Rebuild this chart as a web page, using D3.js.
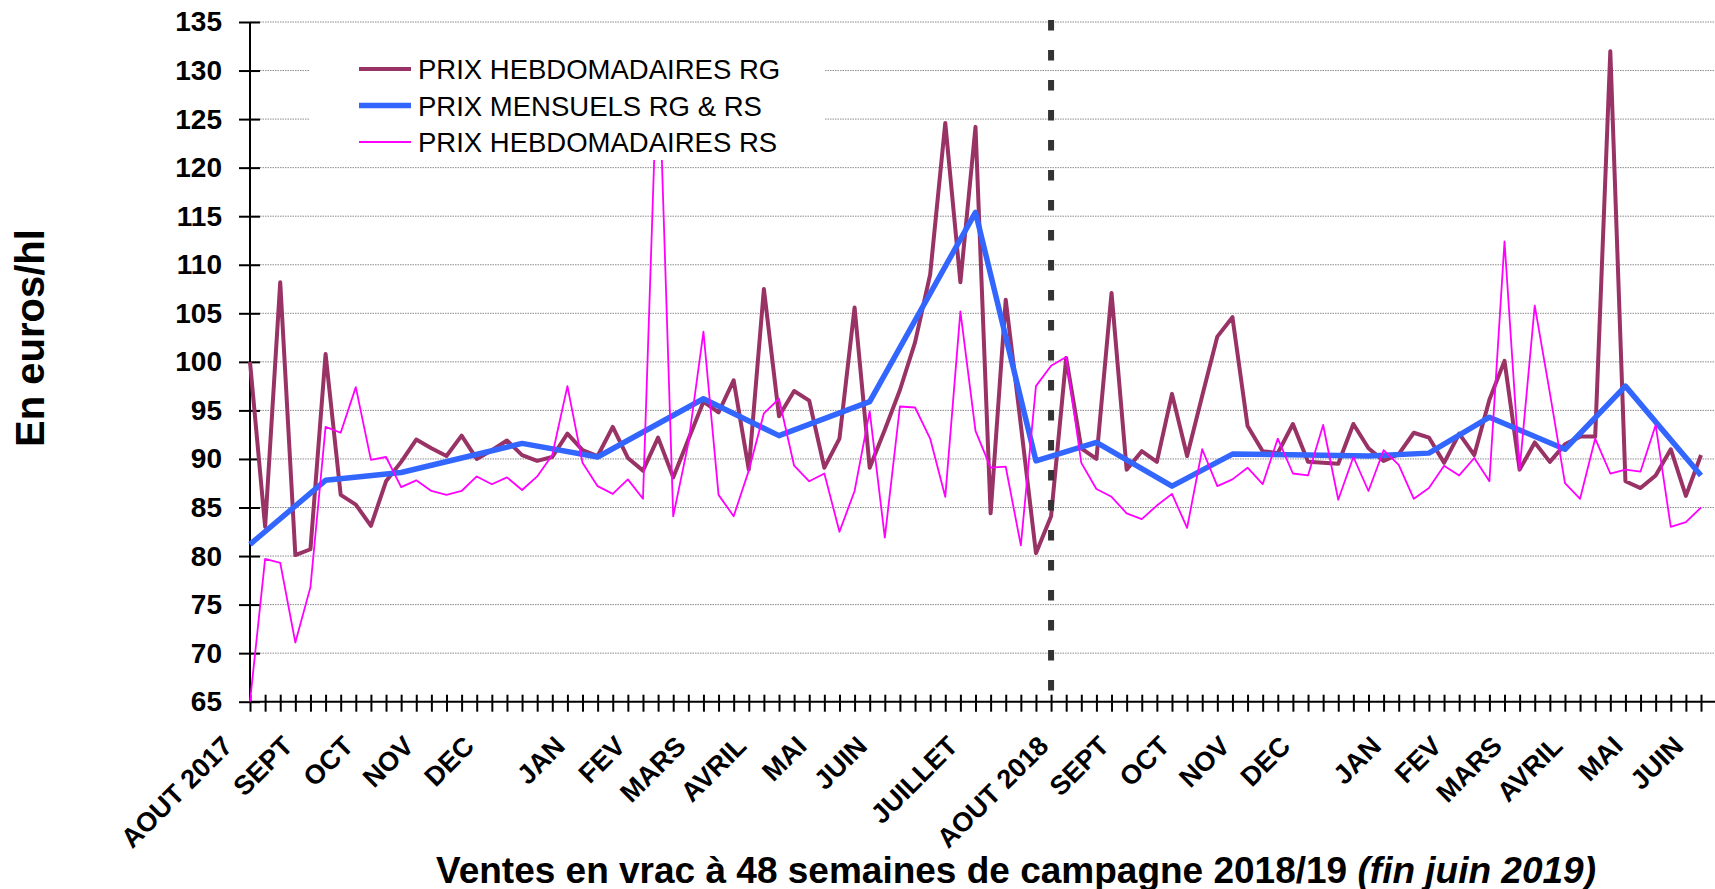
<!DOCTYPE html>
<html>
<head>
<meta charset="utf-8">
<script src="https://cdn.jsdelivr.net/npm/d3@7"></script>
<style>
  body { margin: 0; background: #fff; }
  #chart { width: 1715px; height: 889px; }
  text { font-family: Arial, 'Liberation Sans', sans-serif; }
</style>
</head>
<body>
<div id="chart"></div>
<script>
// Prix hebdomadaires (une valeur par semaine, index 0 = 1re semaine d'AOUT 2017)
const prixRG = [
  100.0, 83.0, 108.2, 80.1, 80.7, 100.8, 86.3, 85.3, 83.1, 87.7,
  89.7, 92.0, 91.1, 90.3, 92.4, 90.0, 90.9, 91.9, 90.4, 89.8,
  90.2, 92.6, 90.9, 90.3, 93.3, 90.1, 88.8, 92.2, 88.1, 92.0,
  95.9, 94.8, 98.1, 88.9, 107.5, 94.4, 97.0, 96.0, 89.1, 92.1,
  105.6, 89.1, 93.0, 97.1, 102.0, 109.0, 124.6, 108.2, 124.2, 84.4,
  106.4, 93.5, 80.3, 84.1, 100.4, 91.1, 90.0, 107.1, 88.9, 90.8,
  89.7, 96.7, 90.3, 96.5, 102.6, 104.6, 93.4, 90.8, 90.6, 93.6,
  89.7, 89.6, 89.5, 93.6, 91.1, 89.8, 90.5, 92.7, 92.2, 89.6,
  92.6, 90.4, 96.1, 100.1, 88.9, 91.7, 89.7, 91.5, 92.3, 92.3,
  132.0, 87.7, 87.0, 88.3, 91.0, 86.2, 90.4
];
const prixRS = [
  65.0, 79.7, 79.3, 71.1, 76.8, 93.3, 92.7, 97.4, 89.9, 90.2,
  87.1, 87.8, 86.7, 86.3, 86.7, 88.2, 87.4, 88.1, 86.8, 88.2,
  90.4, 97.5, 89.6, 87.2, 86.4, 87.9, 85.9, 133.0, 84.1, 91.6,
  103.1, 86.3, 84.1, 88.8, 94.7, 96.2, 89.3, 87.7, 88.5, 82.5,
  86.7, 94.9, 81.9, 95.4, 95.3, 92.1, 86.1, 105.2, 92.9, 89.1,
  89.2, 81.1, 97.5, 99.6, 100.5, 89.6, 86.9, 86.1, 84.4, 83.8,
  85.2, 86.4, 82.9, 91.0, 87.2, 87.9, 89.1, 87.4, 92.1, 88.5,
  88.3, 93.5, 85.8, 90.2, 86.7, 90.9, 89.4, 85.9, 87.0, 89.3,
  88.3, 90.1, 87.7, 112.4, 88.9, 105.8, 96.8, 87.5, 85.9, 92.1,
  88.5, 88.9, 88.7, 93.5, 83.0, 83.5, 85.0
];

// Prix mensuels RG & RS, placés sur la semaine correspondante
const semainesMensuels = [0, 5, 10, 14, 18, 23, 30, 35, 41, 48, 52, 56, 61, 65, 70, 74, 78, 82, 87, 91, 96];
const prixMensuels = [81.2, 87.8, 88.6, 90.1, 91.6, 90.2, 96.2, 92.4, 95.9, 115.4, 89.8, 91.7, 87.2, 90.5, 90.4, 90.3, 90.6, 94.3, 91.0, 97.5, 88.3];

// Etiquettes des mois sous l'axe
const moisLabels = ['AOUT 2017', 'SEPT', 'OCT', 'NOV', 'DEC', 'JAN', 'FEV', 'MARS', 'AVRIL', 'MAI', 'JUIN', 'JUILLET',
  'AOUT 2018', 'SEPT', 'OCT', 'NOV', 'DEC', 'JAN', 'FEV', 'MARS', 'AVRIL', 'MAI', 'JUIN'];
const moisSemaines = [0, 4, 8, 12, 16, 22, 26, 30, 34, 38, 42, 48, 54, 58, 62, 66, 70, 76, 80, 84, 88, 92, 96];

const yTicks = [65, 70, 75, 80, 85, 90, 95, 100, 105, 110, 115, 120, 125, 130, 135];
const debutCampagne = 53; // semaine de la ligne pointillée (AOUT 2018)

const legendItems = [
  { label: 'PRIX HEBDOMADAIRES RG', color: '#993366', width: 4 },
  { label: 'PRIX MENSUELS RG & RS', color: '#3366FF', width: 5.5 },
  { label: 'PRIX HEBDOMADAIRES RS', color: '#FF00FF', width: 1.8 }
];

function drawChart() {
  const W = 1715, H = 889;
  const left = 250, bottom = 701.7, top = 22;

  const svg = d3.select('#chart').append('svg')
    .attr('width', W)
    .attr('height', H);

  const x = d3.scaleLinear().domain([0, 96]).range([left, 1701]);
  const y = d3.scaleLinear().domain([65, 135]).range([bottom, top]);

  // grille horizontale pointillée
  svg.append('g')
    .selectAll('line')
    .data(yTicks.slice(1))
    .enter().append('line')
    .attr('x1', left).attr('x2', W)
    .attr('y1', d => y(d)).attr('y2', d => y(d))
    .attr('stroke', '#8c8c8c')
    .attr('stroke-width', 1)
    .attr('stroke-dasharray', '1.5 1');

  // axe Y
  const yAxis = svg.append('g')
    .attr('transform', `translate(${left},0)`)
    .call(d3.axisLeft(y).tickValues(yTicks).tickSize(11).tickPadding(17));
  yAxis.select('.domain').remove();
  yAxis.selectAll('.tick line').attr('x1', 10).attr('stroke', '#000').attr('stroke-width', 2);
  yAxis.selectAll('.tick text')
    .style('font-size', '28px')
    .style('font-weight', 'bold')
    .attr('fill', '#000');
  yAxis.append('line')
    .attr('x1', 0).attr('x2', 0)
    .attr('y1', top).attr('y2', bottom)
    .attr('stroke', '#000').attr('stroke-width', 2);

  // axe X (une graduation par semaine)
  const xAxis = svg.append('g')
    .attr('transform', `translate(0,${bottom})`)
    .call(d3.axisBottom(x).tickValues(d3.range(0, 98)).tickSize(10).tickFormat(''));
  xAxis.select('.domain').remove();
  xAxis.selectAll('.tick line').attr('y1', -7).attr('stroke', '#000').attr('stroke-width', 2);
  xAxis.append('line')
    .attr('x1', left).attr('x2', W)
    .attr('stroke', '#000').attr('stroke-width', 2);

  // étiquettes des mois, inclinées
  svg.append('g')
    .selectAll('text')
    .data(moisLabels)
    .enter().append('text')
    .attr('transform', (d, i) => `translate(${x(moisSemaines[i]) - 16},${bottom + 46}) rotate(-45)`)
    .attr('text-anchor', 'end')
    .style('font-size', '27px')
    .style('font-weight', 'bold')
    .text(d => d);

  // séries
  const weekLine = d3.line().x((d, i) => x(i)).y(d => y(d));
  const monthLine = d3.line().x((d, i) => x(semainesMensuels[i])).y(d => y(d));

  svg.append('path')
    .datum(prixRG)
    .attr('d', weekLine)
    .attr('fill', 'none')
    .attr('stroke', legendItems[0].color)
    .attr('stroke-width', legendItems[0].width)
    .attr('stroke-linejoin', 'round');

  svg.append('path')
    .datum(prixMensuels)
    .attr('d', monthLine)
    .attr('fill', 'none')
    .attr('stroke', legendItems[1].color)
    .attr('stroke-width', legendItems[1].width)
    .attr('stroke-linejoin', 'round');

  svg.append('path')
    .datum(prixRS)
    .attr('d', weekLine)
    .attr('fill', 'none')
    .attr('stroke', legendItems[2].color)
    .attr('stroke-width', legendItems[2].width)
    .attr('stroke-linejoin', 'round');

  // ligne de début de campagne
  svg.append('line')
    .attr('x1', x(debutCampagne)).attr('x2', x(debutCampagne))
    .attr('y1', top - 2).attr('y2', bottom - 3)
    .attr('stroke', '#333')
    .attr('stroke-width', 6)
    .attr('stroke-dasharray', '10.5 19.5');

  // légende (fond blanc)
  const legend = svg.append('g');
  legend.append('rect')
    .attr('x', 309).attr('y', 38)
    .attr('width', 515).attr('height', 122)
    .attr('fill', '#fff');
  const rows = legend.selectAll('.item')
    .data(legendItems)
    .enter().append('g')
    .attr('class', 'item')
    .attr('transform', (d, i) => `translate(0,${69 + i * 36.5})`);
  rows.append('line')
    .attr('x1', 359).attr('x2', 411)
    .attr('stroke', d => d.color)
    .attr('stroke-width', d => d.width);
  rows.append('text')
    .attr('x', 418)
    .attr('y', 10)
    .style('font-size', '27.5px')
    .text(d => d.label);

  // titres des axes
  svg.append('text')
    .attr('transform', 'translate(44,338) rotate(-90)')
    .attr('text-anchor', 'middle')
    .style('font-size', '40px')
    .style('font-weight', 'bold')
    .text('En euros/hl');

  const title = svg.append('text')
    .attr('x', 1016)
    .attr('y', 883)
    .attr('text-anchor', 'middle')
    .style('font-size', '37px')
    .style('font-weight', 'bold');
  title.append('tspan').text('Ventes en vrac à 48 semaines de campagne 2018/19 ');
  title.append('tspan').style('font-style', 'italic').text('(fin juin 2019)');
}

drawChart();
</script>
</body>
</html>
